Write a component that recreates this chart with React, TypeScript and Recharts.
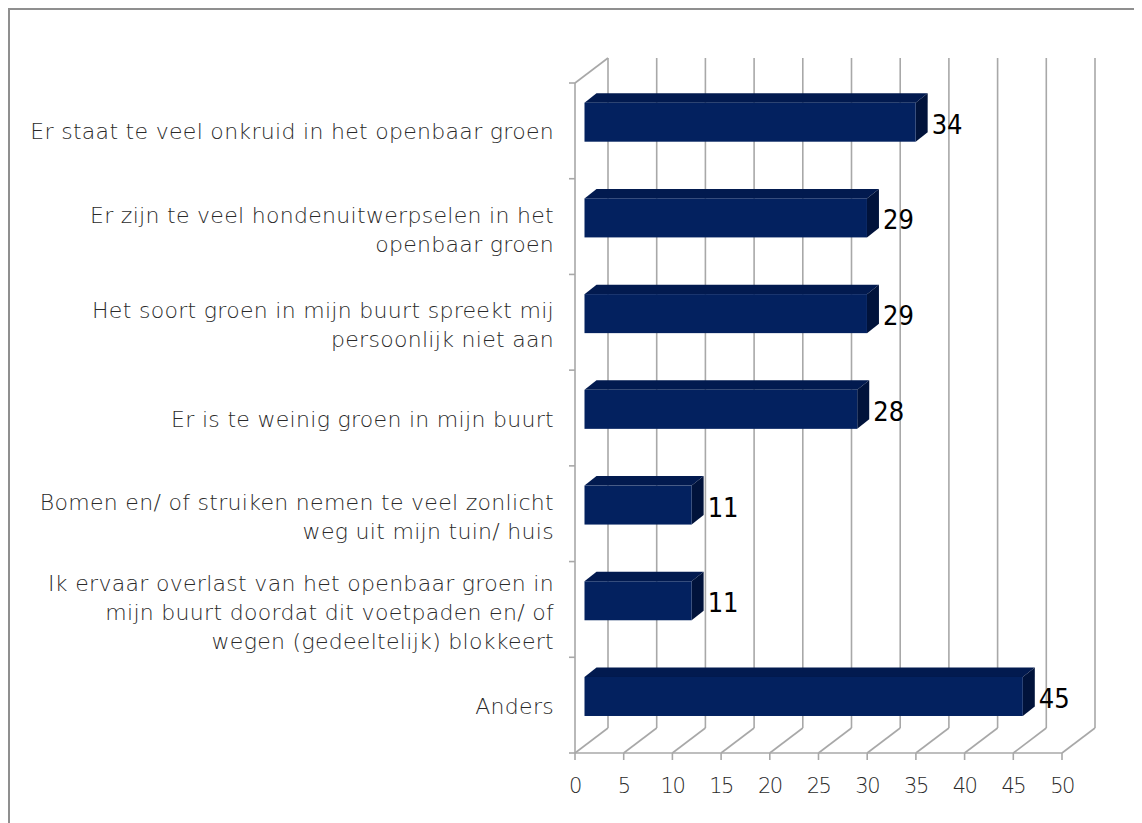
import React from 'react'
import { BarChart, Bar, XAxis, YAxis, CartesianGrid, LabelList } from 'recharts'

const categories = [
  'Er staat te veel onkruid in het openbaar groen',
  'Er zijn te veel hondenuitwerpselen in het\nopenbaar groen',
  'Het soort groen in mijn buurt spreekt mij\npersoonlijk niet aan',
  'Er is te weinig groen in mijn buurt',
  'Bomen en/ of struiken nemen te veel zonlicht\nweg uit mijn tuin/ huis',
  'Ik ervaar overlast van het openbaar groen in\nmijn buurt doordat dit voetpaden en/ of\nwegen (gedeeltelijk) blokkeert',
  'Anders',
]
const values = [34, 29, 29, 28, 11, 11, 45]
const xTicks = [0, 5, 10, 15, 20, 25, 30, 35, 40, 45, 50]

const data = categories.map((name, i) => ({ name, value: values[i] }))

// 3d box: offset of the back wall from the front plane
const DX = 33
const DY = -25
// bars sit a bit into the box, and have their own depth
const BX = 9.5
const BY = -8.3
const TX = 12
const TY = -9.5

const LINE = '#a8a8a8'
const TEXT = '#2a2a2a'
const FONT = '"DejaVu Sans", Lato, sans-serif'

function WallLine(props: any) {
  const { x1, y1, y2, index } = props
  return (
    <g key={`wall-${index}`}>
      <line x1={x1 + DX} y1={y1 + DY} x2={x1 + DX} y2={y2 + DY} stroke={LINE} strokeWidth={1.6} />
      <line x1={x1} y1={y2} x2={x1 + DX} y2={y2 + DY} stroke={LINE} strokeWidth={1.6} />
    </g>
  )
}

function Bar3D(props: any) {
  const { x, y, width, height } = props
  const fx = x + BX
  const fy = y + BY
  const top = `${fx},${fy} ${fx + TX},${fy + TY} ${fx + width + TX},${fy + TY} ${fx + width},${fy}`
  const side = `${fx + width},${fy} ${fx + width + TX},${fy + TY} ${fx + width + TX},${fy + TY + height} ${fx + width},${fy + height}`
  return (
    <g>
      <polygon points={top} fill="#021a4f" />
      <polygon points={side} fill="#01133b" />
      <rect x={fx} y={fy} width={width} height={height} fill="#03215f" />
    </g>
  )
}

function ValueLabel(props: any) {
  const { x, y, width, height, value } = props
  return (
    <text
      x={x + width + BX + TX + 4}
      y={y + BY + height / 2 + 2}
      dominantBaseline="central"
      fontFamily='"Liberation Sans Narrow", "DejaVu Sans Condensed", sans-serif'
      fontStretch="condensed"
      fontSize={27}
      fill="#000"
    >
      {value}
    </text>
  )
}

function CategoryTick(props: any) {
  const { x, y, payload, index, visibleTicksCount } = props
  const half = payload.offset || 0
  const lines = String(payload.value).split('\n')
  const lh = 29
  const shift = lines.length > 1 ? 3 : 1
  const start = y + shift - ((lines.length - 1) * lh) / 2
  const last = visibleTicksCount ? index === visibleTicksCount - 1 : index === categories.length - 1
  return (
    <g>
      <line x1={x - 6} y1={y - half} x2={x} y2={y - half} stroke={LINE} strokeWidth={1.6} />
      {last && <line x1={x - 6} y1={y + half} x2={x} y2={y + half} stroke={LINE} strokeWidth={1.6} />}
      {index === 0 && (
        <line x1={x} y1={y - half} x2={x + DX} y2={y - half + DY} stroke={LINE} strokeWidth={1.6} />
      )}
      <text
        textAnchor="end"
        fontFamily={FONT}
        fontWeight={200}
        fontSize={22}
        letterSpacing={0.3}
        fill={TEXT}
      >
        {lines.map((l, i) => (
          <tspan key={i} x={x - 21} y={start + i * lh} dominantBaseline="central">
            {l}
          </tspan>
        ))}
      </text>
    </g>
  )
}

export default function App() {
  return (
    <div
      style={{
        width: 1150,
        height: 830,
        border: '2px solid #8f8f8f',
        background: '#fff',
        boxSizing: 'border-box',
      }}
    >
      <style>{'body{overflow:hidden}'}</style>
      <BarChart
        width={1140}
        height={812}
        data={data}
        layout="vertical"
        margin={{ top: 73, right: 88, bottom: 28, left: 0 }}
        barSize={39}
      >
        <CartesianGrid horizontal={false} vertical={WallLine} />
        <XAxis
          type="number"
          domain={[0, 50]}
          ticks={xTicks}
          interval={0}
          height={41}
          tickSize={7}
          tickMargin={18}
          axisLine={{ stroke: LINE, strokeWidth: 1.6 }}
          tickLine={{ stroke: LINE, strokeWidth: 1.6 }}
          tick={{ fill: TEXT, fontSize: 21, fontFamily: FONT, fontWeight: 200, letterSpacing: -1.5 }}
        />
        <YAxis
          type="category"
          dataKey="name"
          width={565}
          tickSize={0}
          tickMargin={0}
          tickLine={false}
          interval={0}
          axisLine={{ stroke: LINE, strokeWidth: 1.6 }}
          tick={CategoryTick}
        />
        <Bar dataKey="value" shape={Bar3D} isAnimationActive={false}>
          <LabelList dataKey="value" content={ValueLabel} />
        </Bar>
      </BarChart>
    </div>
  )
}
